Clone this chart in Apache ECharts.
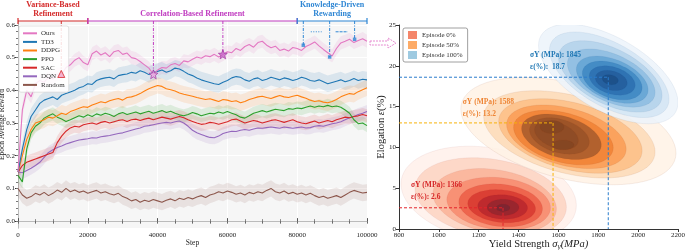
<!DOCTYPE html>
<html lang="en">
<head>
<meta charset="UTF-8">
<title>Reward curves and property density</title>
<style>
  html, body { margin: 0; padding: 0; background: #fff; }
  #chart { width: 685px; height: 250px; }
</style>
</head>
<body>
<div id="chart"></div>
<script src="https://cdn.jsdelivr.net/npm/echarts@6/dist/echarts.min.js"></script>
<script type="text/javascript">
// ---- left panel: training curves (step, epoch average reward) ----
var steps = [0,1250,2500,3750,5000,6250,7500,8750,10000,11250,12500,13750,15000,16250,17500,18750,20000,
  21250,22500,23750,25000,26250,27500,28750,30000,31250,32500,33750,35000,36250,37500,38750,40000,
  41250,42500,43750,45000,46250,47500,48750,50000,51250,52500,53750,55000,56250,57500,58750,60000,
  61250,62500,63750,65000,66250,67500,68750,70000,71250,72500,73750,75000,76250,77500,78750,80000,
  81250,82500,83750,85000,86250,87500,88750,90000,91250,92500,93750,95000,96250,97500,98750,100000];

var ours = [0.15,0.34,0.40,0.38,0.42,0.43,0.425,0.44,0.435,0.45,0.448,0.47,0.478,0.492,0.50,0.485,0.478,
  0.512,0.52,0.508,0.515,0.503,0.518,0.522,0.51,0.514,0.50,0.497,0.488,0.478,0.468,0.45,0.462,
  0.47,0.468,0.478,0.482,0.476,0.49,0.487,0.495,0.502,0.498,0.506,0.503,0.51,0.502,0.51,0.518,
  0.515,0.528,0.522,0.534,0.54,0.532,0.546,0.55,0.538,0.53,0.535,0.522,0.526,0.52,0.531,0.528,
  0.522,0.534,0.54,0.548,0.536,0.525,0.515,0.505,0.528,0.545,0.55,0.556,0.546,0.552,0.558,0.55];
var td3 = [0.15,0.22,0.28,0.32,0.34,0.36,0.37,0.375,0.38,0.372,0.385,0.39,0.395,0.40,0.408,0.412,0.42,
  0.418,0.43,0.435,0.438,0.44,0.435,0.445,0.448,0.45,0.455,0.452,0.46,0.455,0.448,0.455,0.458,
  0.462,0.455,0.46,0.468,0.465,0.458,0.45,0.445,0.438,0.432,0.428,0.424,0.42,0.418,0.425,0.43,
  0.438,0.442,0.44,0.432,0.428,0.435,0.438,0.43,0.434,0.44,0.436,0.432,0.438,0.435,0.43,0.434,
  0.44,0.436,0.43,0.428,0.432,0.426,0.42,0.424,0.428,0.432,0.426,0.43,0.436,0.43,0.434,0.432];
var ddpg = [0.15,0.20,0.25,0.28,0.30,0.305,0.31,0.318,0.315,0.322,0.33,0.326,0.335,0.34,0.345,0.35,0.348,
  0.355,0.36,0.365,0.362,0.368,0.372,0.375,0.37,0.378,0.38,0.384,0.39,0.398,0.405,0.41,0.415,
  0.412,0.405,0.402,0.398,0.392,0.388,0.385,0.382,0.378,0.375,0.372,0.374,0.37,0.366,0.372,0.37,
  0.366,0.368,0.362,0.366,0.372,0.376,0.38,0.382,0.378,0.375,0.38,0.384,0.38,0.378,0.382,0.385,
  0.38,0.376,0.37,0.366,0.368,0.364,0.362,0.366,0.372,0.38,0.386,0.39,0.388,0.396,0.402,0.408];
var ppo = [0.14,0.12,0.22,0.27,0.29,0.30,0.315,0.322,0.328,0.318,0.312,0.305,0.31,0.316,0.322,0.318,0.325,
  0.32,0.328,0.324,0.33,0.326,0.32,0.328,0.332,0.326,0.33,0.334,0.328,0.332,0.336,0.33,0.334,
  0.338,0.332,0.336,0.33,0.325,0.322,0.326,0.332,0.328,0.322,0.326,0.33,0.328,0.334,0.33,0.335,
  0.33,0.325,0.318,0.315,0.322,0.33,0.334,0.338,0.334,0.338,0.342,0.34,0.338,0.344,0.342,0.346,
  0.344,0.348,0.352,0.348,0.352,0.35,0.354,0.35,0.352,0.348,0.34,0.33,0.31,0.298,0.30,0.292];
var sac = [0.15,0.17,0.18,0.185,0.19,0.195,0.20,0.205,0.21,0.24,0.26,0.275,0.285,0.29,0.288,0.295,0.298,
  0.30,0.296,0.302,0.305,0.30,0.304,0.308,0.31,0.305,0.31,0.312,0.308,0.312,0.315,0.31,0.314,
  0.318,0.315,0.312,0.316,0.32,0.316,0.31,0.305,0.30,0.296,0.298,0.302,0.30,0.296,0.30,0.304,
  0.31,0.312,0.306,0.30,0.304,0.308,0.305,0.30,0.304,0.308,0.31,0.306,0.302,0.306,0.31,0.304,
  0.30,0.298,0.302,0.306,0.30,0.304,0.308,0.304,0.31,0.314,0.318,0.316,0.32,0.322,0.326,0.322];
var dqn = [0.15,0.148,0.155,0.162,0.17,0.18,0.195,0.21,0.218,0.225,0.23,0.236,0.24,0.244,0.248,0.25,0.252,
  0.255,0.254,0.258,0.26,0.262,0.265,0.268,0.27,0.274,0.278,0.282,0.285,0.29,0.292,0.295,0.298,
  0.30,0.302,0.30,0.304,0.306,0.30,0.29,0.278,0.27,0.265,0.26,0.256,0.255,0.26,0.268,0.272,
  0.275,0.274,0.278,0.28,0.278,0.282,0.285,0.284,0.286,0.288,0.286,0.284,0.288,0.286,0.284,0.286,
  0.288,0.285,0.286,0.29,0.292,0.29,0.294,0.298,0.30,0.304,0.31,0.316,0.32,0.326,0.33,0.335];
var random = [0.10,0.08,0.07,0.075,0.085,0.08,0.088,0.078,0.085,0.095,0.088,0.10,0.09,0.095,0.088,0.092,0.085,
  0.09,0.094,0.086,0.09,0.084,0.08,0.085,0.075,0.07,0.062,0.066,0.058,0.064,0.06,0.066,0.062,
  0.058,0.064,0.068,0.062,0.07,0.066,0.072,0.068,0.074,0.078,0.072,0.08,0.084,0.09,0.086,0.092,
  0.088,0.082,0.086,0.08,0.088,0.084,0.09,0.086,0.094,0.10,0.09,0.086,0.092,0.084,0.088,0.082,
  0.086,0.08,0.085,0.078,0.072,0.076,0.07,0.074,0.078,0.072,0.08,0.088,0.094,0.09,0.086,0.088];

var methodNames = ['Ours', 'TD3', 'DDPG', 'PPO', 'SAC', 'DQN', 'Random'];
var methodValues = [ours, td3, ddpg, ppo, sac, dqn, random];
var bandHalf = [0.02, 0.025, 0.025, 0.02, 0.02, 0.02, 0.025];
var methodColors = ['#e377c2', '#1f77b4', '#ff7f0e', '#2ca02c', '#d62728', '#9467bd', '#8c564b'];

// training phases along the top
var phaseStarts = [0, 20000, 80000];
var phaseEnds = [20000, 80000, 100000];
var phaseNames = ['Variance-Based\nRefinement', 'Correlation-Based Refinement', 'Knowledge-Driven\nRewarding'];
var phaseColors = ['#d42a2a', '#c03cc0', '#2e86d4'];

// refinement events
var markSteps = [12400, 38800, 58700, 81750, 89300, 96450];
var markValues = [0.45, 0.449, 0.51, 0.538, 0.502, 0.556];
var markPhase = [0, 1, 1, 2, 2, 2];
var gapStarts = [83900, 91000];
var gapEnds = [87000, 94500];
var gapValues = [0.579, 0.579];

// ---- right panel: density of yield strength vs elongation ----
var groupNames = ['Episode 0%', 'Episode 50%', 'Episode 100%'];
var groupColors = ['#f4866a', '#fdab67', '#9ecae1'];
// contour levels, outer to inner: [centre MPa, centre %, half width MPa, half height %, tilt %/MPa]
var ep0Levels = [
  [1250, 4.2, 440, 5.8, -0.003], [1260, 3.8, 380, 4.8, -0.003], [1280, 3.4, 310, 3.9, -0.003],
  [1300, 3.1, 260, 3.2, -0.002], [1310, 2.9, 210, 2.6, -0.002], [1315, 2.8, 170, 2.0, -0.002],
  [1320, 2.7, 125, 1.5, -0.001], [1322, 2.65, 80, 1.0, 0], [1322, 2.6, 35, 0.45, 0]
];
var ep50Levels = [
  [1650, 12.0, 540, 6.0, -0.005], [1655, 11.6, 430, 4.9, -0.005], [1660, 11.4, 360, 4.2, -0.005],
  [1640, 11.3, 300, 3.6, -0.005], [1625, 11.2, 250, 3.1, -0.005], [1615, 11.3, 200, 2.6, -0.005],
  [1605, 11.4, 150, 2.1, -0.005], [1590, 11.5, 110, 1.6, -0.006], [1568, 12.5, 60, 0.8, 0],
  [1623, 10.3, 55, 0.6, 0]
];
var ep100Levels = [
  [1850, 19.0, 350, 5.0, -0.010], [1855, 18.9, 300, 4.3, -0.010], [1860, 18.7, 260, 3.7, -0.009],
  [1865, 18.5, 220, 3.1, -0.008], [1870, 18.3, 180, 2.6, -0.007], [1870, 18.2, 150, 2.2, -0.006],
  [1870, 18.2, 115, 1.7, -0.005], [1865, 18.2, 80, 1.2, -0.004], [1860, 18.3, 40, 0.6, -0.003]
];
var groupLevels = [ep0Levels, ep50Levels, ep100Levels];
var levelFills = [
  ['#fff0ea', '#fdd5c4', '#fbb49a', '#f78b70', '#ec5f48', '#d83a31', '#b9282d', '#95252f', '#7a2632'],
  ['#fff2e6', '#fddcb8', '#fdbf86', '#fb9d57', '#f08236', '#a95c2c', '#9a5228', '#8d4b25', '#844522', '#844522'],
  ['#edf4fb', '#d4e6f5', '#b4d3eb', '#8dbde1', '#64a4d4', '#3f87c3', '#2c6fb0', '#245d9c', '#1d4e87']
];
var levelStrokes = ['rgba(150,30,30,0.15)', 'rgba(140,60,20,0.2)', 'rgba(20,60,130,0.15)'];

var peakX = [1322, 1573, 1850];
var peakY = [2.6, 13.0, 18.6];
var sigmaLabels = ['1366', '1588', '1845'];
var epsLabels = ['2.6', '13.2', ' 18.7'];
var labelAnchors = [[860, 5.4], [1120, 15.6], [1457, 21.3]];
var peakLineColors = ['#e3242b', '#f7b20a', '#2a7ccc'];
var peakTextColors = ['#d62728', '#ee8535', '#1f77b4'];

var serif = 'Liberation Serif, DejaVu Serif, serif';
var yTop = 0.612;

var majorTicks = [0, 0.1, 0.2, 0.3, 0.4, 0.5, 0.6];
var minorTicks = [];
for (var m = 0; m <= 30; m++) { minorTicks.push(+(m * 0.02).toFixed(2)); }

var chart = echarts.init(document.getElementById('chart'));
var series = [];

// shaded bands (one polygon per method, drawn from item 0)
methodNames.forEach(function (name, i) {
  var vals = methodValues[i];
  series.push({
    type: 'custom', name: name + ' band', xAxisIndex: 0, yAxisIndex: 0, clip: true, silent: true,
    encode: { x: 0, y: 1 },
    data: steps.map(function (s, j) { return [s, vals[j]]; }),
    renderItem: function (params, api) {
      if (params.dataIndex !== 0) return null;
      var pts = [];
      for (var j = 0; j < steps.length; j++) pts.push(api.coord([steps[j], vals[j] + bandHalf[i]]));
      for (var j2 = steps.length - 1; j2 >= 0; j2--) pts.push(api.coord([steps[j2], vals[j2] - bandHalf[i]]));
      return { type: 'polygon', shape: { points: pts }, style: { fill: methodColors[i], opacity: 0.13 } };
    }
  });
});

// mean curves (Ours drawn last so it sits on top)
for (var i = methodNames.length - 1; i >= 0; i--) {
  (function (i) {
    series.push({
      type: 'line', name: methodNames[i], xAxisIndex: 0, yAxisIndex: 0,
      symbol: 'none', showSymbol: false,
      itemStyle: { color: methodColors[i] },
      lineStyle: { color: methodColors[i], width: 1.1 },
      data: steps.map(function (s, j) { return [s, methodValues[i][j]]; })
    });
  })(i);
}

// phase brackets + titles
series.push({
  type: 'custom', name: 'phases', xAxisIndex: 0, yAxisIndex: 0, clip: false, silent: true,
  data: phaseStarts.map(function (s, i) { return [s, phaseEnds[i]]; }),
  renderItem: function (params, api) {
    var c = phaseColors[params.dataIndex];
    var p0 = api.coord([api.value(0), yTop]);
    var p1 = api.coord([api.value(1), yTop]);
    var ls = { stroke: c, lineWidth: 1.2 };
    return {
      type: 'group',
      children: [
        { type: 'line', shape: { x1: p0[0], y1: p0[1], x2: p1[0], y2: p1[1] }, style: ls },
        { type: 'line', shape: { x1: p0[0], y1: p0[1] - 3, x2: p0[0], y2: p0[1] + 3 }, style: ls },
        { type: 'line', shape: { x1: p1[0], y1: p1[1] - 3, x2: p1[0], y2: p1[1] + 3 }, style: ls },
        { type: 'text', x: (p0[0] + p1[0]) / 2, y: p0[1] - 3,
          style: { text: phaseNames[params.dataIndex], fill: c, font: 'bold 8px ' + serif,
            align: 'center', verticalAlign: 'bottom', lineHeight: 8.5 } }
      ]
    };
  }
});

// dash-dot event lines
series.push({
  type: 'custom', name: 'events', xAxisIndex: 0, yAxisIndex: 0, clip: false, silent: true,
  data: markSteps.map(function (s, i) { return [s, markValues[i]]; }),
  renderItem: function (params, api) {
    var c = phaseColors[markPhase[params.dataIndex]];
    var a = api.coord([api.value(0), yTop]);
    var b = api.coord([api.value(0), api.value(1)]);
    return { type: 'line', shape: { x1: a[0], y1: a[1], x2: b[0], y2: b[1] },
      style: { stroke: c, lineWidth: 1, lineDash: [3, 1.5, 1, 1.5] } };
  }
});

// dotted gaps between knowledge-driven events
series.push({
  type: 'custom', name: 'gaps', xAxisIndex: 0, yAxisIndex: 0, clip: false, silent: true,
  data: gapStarts.map(function (s, i) { return [s, gapValues[i], gapEnds[i]]; }),
  renderItem: function (params, api) {
    var a = api.coord([api.value(0), api.value(1)]);
    var b = api.coord([api.value(2), api.value(1)]);
    return { type: 'line', shape: { x1: a[0], y1: a[1], x2: b[0], y2: b[1] },
      style: { stroke: '#2e86d4', lineWidth: 1, lineDash: params.dataIndex === 0 ? [1, 1.5] : [3, 1] } };
  }
});

// event markers
var starPath = 'path://M12,1 L14.9,8.6 L23,9 L16.7,14.1 L18.8,22 L12,17.6 L5.2,22 L7.3,14.1 L1,9 L9.1,8.6 Z';
series.push({
  type: 'scatter', name: 'markers', xAxisIndex: 0, yAxisIndex: 0, silent: true, z: 5,
  data: markSteps.map(function (s, i) {
    var ph = markPhase[i];
    if (ph === 0) {
      return { value: [s, markValues[i]], symbol: 'triangle', symbolSize: 7,
        itemStyle: { color: '#f3a3c6', borderColor: '#d62728', borderWidth: 1 } };
    }
    if (ph === 1) {
      return { value: [s, markValues[i]], symbol: starPath, symbolSize: 9,
        itemStyle: { color: i === 1 ? '#e9a6e0' : '#c866c8', borderColor: '#9c2f9c', borderWidth: 0.8 } };
    }
    return { value: [s, markValues[i]], symbol: 'rect', symbolSize: 3.5,
      itemStyle: { color: '#2e86d4' } };
  })
});

// density contours
groupNames.forEach(function (name, g) {
  series.push({
    type: 'custom', name: name, xAxisIndex: 2, yAxisIndex: 2, clip: true, silent: true,
    itemStyle: { color: groupColors[g] },
    encode: { x: 0, y: 1 },
    data: groupLevels[g],
    renderItem: function (params, api) {
      var cx = api.value(0), cy = api.value(1), rx = api.value(2), ry = api.value(3), k = api.value(4);
      var pts = [];
      for (var j = 0; j < 72; j++) {
        var t = j / 72 * Math.PI * 2;
        var dx = rx * Math.cos(t);
        pts.push(api.coord([cx + dx, cy + ry * Math.sin(t) + k * dx]));
      }
      return { type: 'polygon', shape: { points: pts },
        style: { fill: levelFills[g][params.dataIndex], stroke: levelStrokes[g], lineWidth: 0.5, opacity: 0.88 } };
    }
  });
});

// peak guide lines and annotations
series.push({
  type: 'custom', name: 'peaks', xAxisIndex: 2, yAxisIndex: 2, clip: false, silent: true, z: 6,
  data: peakX.map(function (x, i) { return [x, peakY[i]]; }),
  renderItem: function (params, api) {
    var i = params.dataIndex;
    var p = api.coord([api.value(0), api.value(1)]);
    var l = api.coord([800, api.value(1)]);
    var b = api.coord([api.value(0), 0]);
    var t = api.coord(labelAnchors[i]);
    var ls = { stroke: peakLineColors[i], lineWidth: 1, lineDash: [3, 2] };
    var font = 'bold 7.5px ' + serif;
    return {
      type: 'group',
      children: [
        { type: 'line', shape: { x1: l[0], y1: l[1], x2: p[0], y2: p[1] }, style: ls },
        { type: 'line', shape: { x1: p[0], y1: p[1], x2: b[0], y2: b[1] }, style: ls },
        { type: 'text', x: t[0], y: t[1],
          style: { text: 'σY (MPa): ' + sigmaLabels[i], fill: peakTextColors[i], font: font, verticalAlign: 'middle' } },
        { type: 'text', x: t[0], y: t[1] + 12,
          style: { text: 'ε(%): ' + epsLabels[i], fill: peakTextColors[i], font: font, verticalAlign: 'middle' } }
      ]
    };
  }
});

var plain = function (v) { return String(v); };

var option = {
  animation: false,
  textStyle: { fontFamily: serif },
  grid: [
    { left: 18, top: 21, right: 318, bottom: 22, outerBoundsMode: 'none', containLabel: false,
      show: true, backgroundColor: '#f6f6f6', borderWidth: 0 },
    { left: 399, top: 25, right: 7, bottom: 21, outerBoundsMode: 'none', containLabel: false }
  ],
  legend: [
    {
      data: methodNames, left: 19, top: 26, orient: 'vertical', icon: 'rect',
      itemWidth: 14, itemHeight: 2, itemGap: 0, padding: [3, 4, 3, 4],
      backgroundColor: 'rgba(255,255,255,0.85)', borderColor: '#d0d0d0', borderWidth: 0.6, borderRadius: 2,
      textStyle: { fontSize: 7, color: '#333', fontFamily: serif, lineHeight: 8.6, padding: [0, 0, 0, -1] }
    },
    {
      data: groupNames, left: 403, top: 28, orient: 'vertical', icon: 'rect',
      itemWidth: 9, itemHeight: 8, itemGap: 2, padding: [3, 5, 3, 5],
      backgroundColor: '#fff', borderColor: '#888', borderWidth: 0.8, borderRadius: 2,
      textStyle: { fontSize: 7, color: '#333', fontFamily: serif }
    }
  ],
  xAxis: [
    {
      gridIndex: 0, type: 'value', min: 0, max: 100000, interval: 20000,
      axisLine: { lineStyle: { color: '#bbb', width: 1 } },
      axisTick: { inside: true, length: 3, lineStyle: { color: '#555' } },
      minorTick: { show: true, splitNumber: 4, length: 2, lineStyle: { color: '#888' } },
      axisLabel: { fontSize: 7, color: '#222', margin: 4, formatter: plain },
      splitLine: { show: true, lineStyle: { color: '#ffffff', width: 1 } },
      name: 'Step', nameLocation: 'middle', nameGap: 11, nameMoveOverlap: false,
      nameTextStyle: { fontSize: 7.5, color: '#222', fontFamily: serif }
    },
    {
      gridIndex: 0, type: 'value', position: 'top', min: 0, max: 100000, interval: 5000,
      axisLine: { show: false },
      axisTick: { show: true, inside: true, length: 2.5, lineStyle: { color: '#666' } },
      axisLabel: { show: false }, splitLine: { show: false }
    },
    {
      gridIndex: 1, type: 'value', min: 800, max: 2200, interval: 200,
      axisLine: { lineStyle: { color: '#333', width: 1 } },
      axisTick: { length: 3, lineStyle: { color: '#333' } },
      axisLabel: { fontSize: 7, color: '#222', margin: 3, formatter: plain },
      splitLine: { show: false },
      name: '{a|Yield Strength }{b|σ}{c|y}{b|(MPa)}', nameLocation: 'middle', nameGap: 9, nameMoveOverlap: false,
      nameTextStyle: {
        fontFamily: serif, color: '#222',
        rich: {
          a: { fontSize: 10.5, fontFamily: serif, color: '#222' },
          b: { fontSize: 10.5, fontFamily: serif, fontStyle: 'italic', color: '#222' },
          c: { fontSize: 7.5, fontFamily: serif, fontStyle: 'italic', color: '#222', padding: [5, 0, 0, 0] }
        }
      }
    }
  ],
  yAxis: [
    {
      gridIndex: 0, type: 'value', min: -0.021, max: yTop,
      axisLine: { show: true, lineStyle: { color: '#bbb' } },
      axisTick: { show: true, length: 3, customValues: majorTicks, lineStyle: { color: '#333' } },
      axisLabel: { fontSize: 7, color: '#222', margin: 3, customValues: majorTicks,
        formatter: function (v) { return v.toFixed(1); } },
      splitLine: { show: true, lineStyle: { color: '#ffffff', width: 1 } },
      name: 'Epoch Average Reward', nameLocation: 'middle', nameGap: 12, nameMoveOverlap: false,
      nameTextStyle: { fontSize: 7.5, color: '#222', fontFamily: serif }
    },
    {
      gridIndex: 0, type: 'value', position: 'right', min: -0.021, max: yTop,
      axisLine: { show: true, lineStyle: { color: '#bbb' } },
      axisTick: { show: true, inside: true, length: 2, customValues: minorTicks, lineStyle: { color: '#777' } },
      axisLabel: { show: false }, splitLine: { show: false }
    },
    {
      gridIndex: 1, type: 'value', min: 0, max: 25, interval: 5,
      axisLine: { show: true, lineStyle: { color: '#333' } },
      axisTick: { show: true, length: 3, lineStyle: { color: '#333' } },
      axisLabel: { fontSize: 7, color: '#222', margin: 3, formatter: plain },
      splitLine: { show: false },
      name: '{a|Elogation }{b|ε}{a|(%)}', nameLocation: 'middle', nameGap: 12, nameMoveOverlap: false,
      nameTextStyle: {
        fontFamily: serif, color: '#222',
        rich: {
          a: { fontSize: 10.5, fontFamily: serif, color: '#222' },
          b: { fontSize: 10.5, fontFamily: serif, fontStyle: 'italic', color: '#222' }
        }
      }
    }
  ],
  graphic: [
    {
      type: 'polygon', x: 370, y: 43, silent: true,
      shape: { points: [[0, -2], [18, -2], [18, -5], [26, 0], [18, 5], [18, 2], [0, 2]] },
      style: { fill: 'rgba(0,0,0,0)', stroke: '#e58ad0', lineWidth: 1, lineDash: [2, 1] }
    }
  ],
  series: series
};

chart.setOption(option);
</script>
</body>
</html>
